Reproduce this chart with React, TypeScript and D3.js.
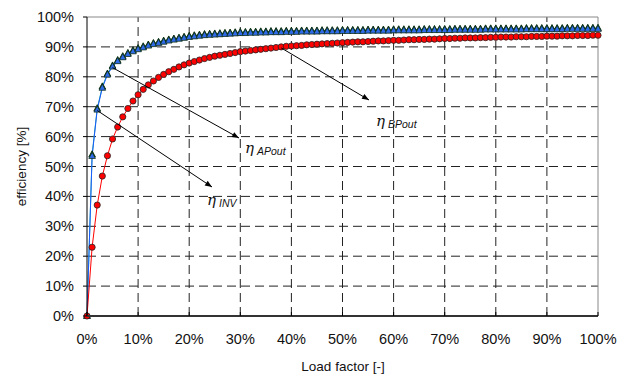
import * as d3 from 'd3'

// load factor in %, one point per percent
const loadPct = d3.range(0, 101)

const etaAPout = [
  0, 53.5, 69.0, 76.3, 80.7, 83.4, 85.2, 86.5, 87.6, 88.5,
  89.2, 89.8, 90.4, 90.9, 91.3, 91.7, 92.1, 92.4, 92.7, 93.0,
  93.3, 93.5, 93.7, 93.9, 94.0, 94.1, 94.2, 94.3, 94.4, 94.5,
  94.6, 94.6, 94.7, 94.7, 94.8, 94.8, 94.9, 94.9, 94.9, 95.0,
  95.0, 95.0, 95.1, 95.1, 95.1, 95.1, 95.2, 95.2, 95.2, 95.2,
  95.3, 95.3, 95.3, 95.3, 95.3, 95.4, 95.4, 95.4, 95.4, 95.4,
  95.5, 95.5, 95.5, 95.5, 95.5, 95.5, 95.6, 95.6, 95.6, 95.6,
  95.6, 95.6, 95.7, 95.7, 95.7, 95.7, 95.7, 95.7, 95.8, 95.8,
  95.8, 95.8, 95.8, 95.8, 95.8, 95.8, 95.9, 95.9, 95.9, 95.9,
  95.9, 95.9, 95.9, 95.9, 96.0, 96.0, 96.0, 96.0, 96.0, 96.0,
  96.0
]

const etaInv = [
  0, 54.0, 69.4, 76.7, 81.0, 83.7, 85.5, 86.8, 87.9, 88.8,
  89.5, 90.1, 90.7, 91.2, 91.6, 92.0, 92.4, 92.7, 93.0, 93.3,
  93.6, 93.8, 94.0, 94.2, 94.3, 94.4, 94.5, 94.6, 94.7, 94.8,
  94.9, 94.9, 95.0, 95.0, 95.1, 95.1, 95.2, 95.2, 95.2, 95.3,
  95.3, 95.3, 95.4, 95.4, 95.4, 95.4, 95.5, 95.5, 95.5, 95.5,
  95.6, 95.6, 95.6, 95.6, 95.6, 95.7, 95.7, 95.7, 95.7, 95.7,
  95.8, 95.8, 95.8, 95.8, 95.8, 95.8, 95.9, 95.9, 95.9, 95.9,
  95.9, 95.9, 96.0, 96.0, 96.0, 96.0, 96.0, 96.0, 96.1, 96.1,
  96.1, 96.1, 96.1, 96.1, 96.1, 96.1, 96.2, 96.2, 96.2, 96.2,
  96.2, 96.2, 96.2, 96.2, 96.3, 96.3, 96.3, 96.3, 96.3, 96.3,
  96.3
]

const etaBPout = [
  0, 23.0, 37.1, 46.8, 53.6, 59.2, 63.2, 66.6, 69.4, 71.9,
  74.0, 75.8, 77.3, 78.6, 79.8, 80.8, 81.7, 82.5, 83.3, 84.0,
  84.6, 85.1, 85.6, 86.1, 86.5, 86.9, 87.2, 87.5, 87.8, 88.1,
  88.4, 88.6, 88.8, 89.0, 89.2, 89.4, 89.6, 89.8, 90.0, 90.2,
  90.3, 90.4, 90.5, 90.7, 90.8, 90.9, 91.0, 91.1, 91.2, 91.3,
  91.4, 91.5, 91.6, 91.7, 91.7, 91.8, 91.9, 92.0, 92.0, 92.1,
  92.2, 92.2, 92.3, 92.4, 92.4, 92.5, 92.5, 92.6, 92.6, 92.7,
  92.8, 92.8, 92.9, 92.9, 93.0, 93.0, 93.0, 93.1, 93.1, 93.2,
  93.2, 93.3, 93.3, 93.3, 93.4, 93.4, 93.4, 93.5, 93.5, 93.5,
  93.6, 93.6, 93.6, 93.7, 93.7, 93.7, 93.8, 93.8, 93.8, 93.9,
  93.9
]

const xTicks = d3.range(0, 101, 10)
const yTicks = d3.range(0, 101, 10)

const W = 630
const H = 374
const margin = { top: 17, right: 32, bottom: 58, left: 87 }
const font = '"Liberation Sans", Arial, sans-serif'

type Pt = [number, number]
const pts = (vals: number[]): Pt[] => loadPct.map((x, i) => [x, vals[i]])

export default function App() {
  const x = d3.scaleLinear().domain([0, 100]).range([margin.left, W - margin.right])
  const y = d3.scaleLinear().domain([0, 100]).range([H - margin.bottom, margin.top])
  const line = d3.line<Pt>().x(d => x(d[0])).y(d => y(d[1]))

  const tri = 'M0,-3.8L3.3,2.4L-3.3,2.4Z'

  // arrows: start at a data point, end near the label
  const notes = [
    { name: 'APout', from: [x(5), y(etaAPout[5]) + 1] as Pt, to: [239, 138] as Pt, lx: 245, ly: 153 },
    { name: 'INV', from: [x(2), y(etaInv[2]) + 2] as Pt, to: [212, 187] as Pt, lx: 207, ly: 205 },
    { name: 'BPout', from: [x(38), y(etaBPout[38]) + 1] as Pt, to: [369, 100] as Pt, lx: 376, ly: 126 }
  ]

  const x0 = margin.left
  const x1 = W - margin.right
  const y0 = H - margin.bottom
  const y1 = margin.top

  return (
    <svg width={W} height={H} style={{ position: 'absolute', left: 0, top: 0, background: '#fff' }}>
      <defs>
        <marker id="ah" viewBox="0 0 10 10" refX="10" refY="5" markerWidth="8" markerHeight="7"
          markerUnits="userSpaceOnUse" orient="auto">
          <path d="M0,1L10,5L0,9Z" fill="#000" />
        </marker>
      </defs>

      {/* grid */}
      {yTicks.filter(t => t > 0 && t < 100).map(t => (
        <line key={'gy' + t} x1={x0} x2={x1} y1={y(t)} y2={y(t)} stroke="#222" strokeWidth={1}
          strokeDasharray="9,5" />
      ))}
      {xTicks.filter(t => t > 0 && t < 100).map(t => (
        <line key={'gx' + t} x1={x(t)} x2={x(t)} y1={y0} y2={y1} stroke="#222" strokeWidth={1}
          strokeDasharray="9,5" />
      ))}
      {/* frame */}
      <line x1={x0} x2={x1} y1={y1} y2={y1} stroke="#888" />
      <line x1={x1} x2={x1} y1={y1} y2={y0} stroke="#888" />

      {/* lines */}
      <path d={line(pts(etaInv)) ?? ''} fill="none" stroke="#1aa89a" strokeWidth={1} />
      <path d={line(pts(etaAPout)) ?? ''} fill="none" stroke="#1a5cff" strokeWidth={1} />
      <path d={line(pts(etaBPout)) ?? ''} fill="none" stroke="#ff0000" strokeWidth={1} />

      {/* markers */}
      {loadPct.map((p, i) => (
        <path key={'g' + p} d={tri} transform={`translate(${x(p)},${y(etaInv[i])})`}
          fill="#0b4a14" stroke="#052a0a" strokeWidth={0.9} />
      ))}
      {loadPct.map((p, i) => (
        <path key={'b' + p} d={tri} transform={`translate(${x(p)},${y(etaAPout[i])})`}
          fill="#2f6be8" stroke="#10301c" strokeWidth={0.8} />
      ))}
      {loadPct.map((p, i) => (
        <circle key={'r' + p} cx={x(p)} cy={y(etaBPout[i])} r={3.1}
          fill="#ff0000" stroke="#222" strokeWidth={0.8} />
      ))}

      {/* axes */}
      <line x1={x0} x2={x0} y1={y1} y2={y0} stroke="#000" strokeWidth={1} />
      <line x1={x0} x2={x1} y1={y0} y2={y0} stroke="#333" strokeWidth={2} />
      {yTicks.map(t => (
        <g key={'yt' + t}>
          <line x1={x0 - 4} x2={x0} y1={y(t)} y2={y(t)} stroke="#000" />
          <text x={74} y={y(t) + 5} textAnchor="end" fontFamily={font} fontSize={14.5} fill="#111">
            {t + '%'}
          </text>
        </g>
      ))}
      {xTicks.map(t => (
        <g key={'xt' + t}>
          <line x1={x(t)} x2={x(t)} y1={y0} y2={y0 - 4} stroke="#000" />
          <text x={x(t)} y={344} textAnchor="middle" fontFamily={font} fontSize={14.5} fill="#111">
            {t + '%'}
          </text>
        </g>
      ))}
      <text x={343} y={371} textAnchor="middle" fontFamily={font} fontSize={13.5} fill="#111">
        Load factor [-]
      </text>
      <text transform={`translate(26,${(y0 + y1) / 2}) rotate(-90)`} textAnchor="middle"
        fontFamily={font} fontSize={13.5} fill="#111">
        efficiency [%]
      </text>

      {/* annotations */}
      {notes.map(n => (
        <g key={n.name}>
          <line x1={n.from[0]} y1={n.from[1]} x2={n.to[0]} y2={n.to[1]} stroke="#000" strokeWidth={1}
            markerEnd="url(#ah)" />
          <text x={n.lx} y={n.ly} fontFamily={'"DejaVu Serif", "Liberation Serif", serif'} fontStyle="italic"
            fontSize={15} fill="#111">
            η
            <tspan dx={3} dy={2} fontFamily={font} fontSize={10.5}>{n.name}</tspan>
          </text>
        </g>
      ))}
    </svg>
  )
}
